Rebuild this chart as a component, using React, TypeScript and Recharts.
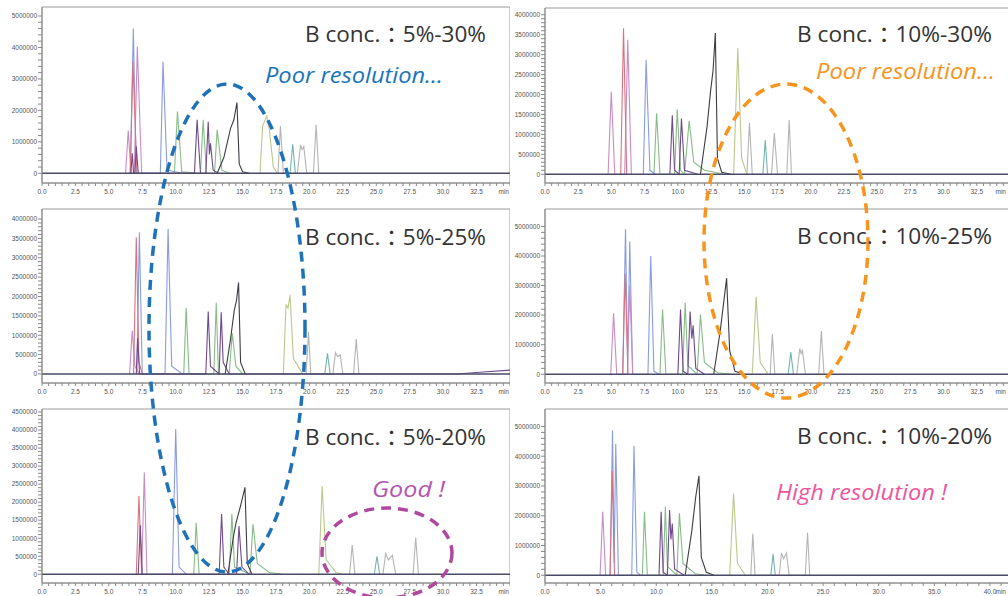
import React from 'react'
import { LineChart, Line, XAxis, YAxis, ReferenceArea } from 'recharts'

type Pt = [number, number]

// retention time (min), intensity in millions of counts

// ---- B conc. 5%-30%
const p1Mauve: Pt[] = [[6.25, 0], [6.45, 1.36], [6.65, 0], [6.9, 0], [7.13, 4.03], [7.45, 0]]
const p1Red: Pt[] = [[6.6, 0], [6.8, 3.55], [7.1, 0]]
const p1Blue: Pt[] = [[6.6, 0], [6.83, 4.6], [7.05, 0], [8.85, 0], [9.05, 3.55], [9.35, 0.1], [10.5, 0]]
const p1Green: Pt[] = [[9.9, 0], [10.13, 1.96], [10.45, 0.05], [11.85, 0], [12.05, 1.7], [12.3, 0], [12.9, 0], [13.1, 1.38], [13.45, 0.1], [14, 0]]
const p1Purple: Pt[] = [[6.65, 0], [6.75, 0.64], [6.85, 0], [6.95, 0], [7.05, 0.85], [7.2, 0], [11.4, 0], [11.6, 1.7], [11.85, 0], [12.25, 0], [12.43, 1.64], [12.52, 0.6], [12.6, 0.95], [12.8, 0.1], [13.2, 0]]
const p1Black: Pt[] = [[13.1, 0], [13.6, 0.5], [14.1, 1.43], [14.35, 1.7], [14.58, 2.25], [14.75, 0.3], [15, 0.05], [15.5, 0]]
const p1Olive: Pt[] = [[16.3, 0], [16.5, 1.5], [16.8, 1.82], [17.0, 1.4], [17.3, 0.2], [17.6, 0]]
const p1Gray: Pt[] = [[17.65, 0], [17.83, 1.5], [18.05, 0], [19.1, 0], [19.33, 0.9], [19.45, 0.75], [19.58, 0.85], [19.8, 0], [20.3, 0], [20.5, 1.54], [20.7, 0]]
const p1Teal: Pt[] = [[18.55, 0], [18.75, 0.92], [18.95, 0]]

// ---- B conc. 10%-30%
const p2Mauve: Pt[] = [[4.75, 0], [4.99, 2.07], [5.25, 0], [6.0, 0], [6.23, 3.37], [6.5, 0]]
const p2Red: Pt[] = [[5.7, 0], [5.91, 3.66], [6.15, 0]]
const p2Blue: Pt[] = [[7.4, 0], [7.61, 2.87], [7.9, 0.1], [8.3, 0]]
const p2Green: Pt[] = [[8.2, 0], [8.4, 1.53], [8.65, 0], [9.75, 0], [9.95, 1.63], [10.2, 0.1], [10.5, 0], [10.85, 1.34], [11.2, 0.3], [12, 0.1], [13.5, 0]]
const p2Purple: Pt[] = [[9.4, 0], [9.58, 1.48], [9.75, 0.1], [10.1, 0], [10.27, 1.4], [10.5, 0.1], [11.5, 0]]
const p2Black: Pt[] = [[11.7, 0], [12.2, 1.2], [12.47, 2.11], [12.65, 2.6], [12.82, 3.54], [12.98, 0.4], [13.3, 0.05], [14, 0]]
const p2Olive: Pt[] = [[14.2, 0], [14.51, 3.16], [14.8, 0.4], [15.2, 0]]
const p2Gray: Pt[] = [[15.2, 0], [15.39, 1.29], [15.6, 0], [17.05, 0], [17.26, 1.04], [17.5, 0], [18.2, 0], [18.38, 1.36], [18.55, 0]]
const p2Teal: Pt[] = [[16.4, 0], [16.58, 0.86], [16.75, 0]]

// ---- B conc. 5%-25%
const p3Mauve: Pt[] = [[6.55, 0], [6.75, 1.12], [6.95, 0.2], [7.3, 0]]
const p3Red: Pt[] = [[6.85, 0], [7.05, 3.53], [7.25, 0.3], [7.5, 0]]
const p3Blue: Pt[] = [[7.1, 0], [7.28, 3.66], [7.5, 0], [9.2, 0], [9.43, 3.74], [9.7, 0.2], [10.5, 0]]
const p3Green: Pt[] = [[10.6, 0], [10.78, 1.7], [11, 0], [12.85, 0], [13.03, 1.84], [13.2, 0], [14.0, 0], [14.23, 1.05], [14.5, 0.2], [15, 0]]
const p3Purple: Pt[] = [[7.05, 0], [7.15, 0.92], [7.3, 0], [12.25, 0], [12.43, 1.61], [12.6, 0.2], [13.25, 0], [13.4, 1.59], [13.55, 0.3], [14, 0], [31, 0], [33, 0.05], [35, 0.1]]
const p3Black: Pt[] = [[13.7, 0], [14.1, 0.9], [14.38, 1.65], [14.55, 1.9], [14.7, 2.36], [14.85, 0.3], [15.2, 0]]
const p3Olive: Pt[] = [[18.05, 0], [18.25, 1.78], [18.4, 1.7], [18.55, 2.04], [18.8, 0.4], [19.5, 0]]
const p3Gray: Pt[] = [[19.75, 0], [19.93, 1.09], [20.1, 0], [21.75, 0], [21.95, 0.55], [22.1, 0.45], [22.3, 0.49], [22.5, 0], [23.3, 0], [23.5, 0.9], [23.7, 0]]
const p3Teal: Pt[] = [[21.15, 0], [21.35, 0.53], [21.55, 0]]

// ---- B conc. 10%-25%
const p4Mauve: Pt[] = [[4.95, 0], [5.16, 2.06], [5.4, 0], [6.2, 0], [6.38, 3.0], [6.6, 0]]
const p4Red: Pt[] = [[5.85, 0], [6.03, 3.4], [6.25, 0]]
const p4Blue: Pt[] = [[5.85, 0], [6.06, 4.91], [6.22, 0.3], [6.38, 4.49], [6.6, 0], [7.75, 0], [7.96, 4.0], [8.2, 0.1], [8.6, 0]]
const p4Green: Pt[] = [[8.65, 0], [8.85, 2.19], [9.1, 0], [10.35, 0], [10.55, 2.42], [10.75, 0.3], [11.45, 0], [11.7, 2.02], [12, 0.4], [13, 0.05], [14, 0]]
const p4Purple: Pt[] = [[10.0, 0], [10.2, 2.19], [10.4, 0.1], [10.75, 0], [10.92, 2.12], [11.05, 1.2], [11.15, 1.66], [11.35, 0.2], [12, 0]]
const p4Black: Pt[] = [[12.7, 0], [13.2, 1.5], [13.67, 3.25], [13.9, 0.8], [14.3, 0.1], [15, 0]]
const p4Olive: Pt[] = [[15.6, 0], [15.89, 2.62], [16.2, 0.4], [16.8, 0]]
const p4Gray: Pt[] = [[16.95, 0], [17.11, 1.36], [17.3, 0], [18.95, 0], [19.18, 0.87], [19.28, 0.7], [19.38, 0.81], [19.6, 0], [20.6, 0], [20.8, 1.46], [21, 0]]
const p4Teal: Pt[] = [[18.3, 0], [18.5, 0.75], [18.7, 0]]

// ---- B conc. 5%-20%
const p5Mauve: Pt[] = [[7.45, 0], [7.65, 2.82], [7.85, 0]]
const p5Red: Pt[] = [[7.05, 0], [7.25, 2.17], [7.45, 0]]
const p5Blue: Pt[] = [[9.75, 0], [10.0, 4.03], [10.25, 0.2], [10.8, 0]]
const p5Green: Pt[] = [[11.35, 0], [11.53, 1.43], [11.75, 0], [14.0, 0], [14.2, 1.67], [14.4, 0.2], [15.55, 0], [15.78, 1.39], [16.1, 0.3], [17, 0.05], [18, 0]]
const p5Purple: Pt[] = [[7.2, 0], [7.35, 1.36], [7.5, 0], [13.25, 0], [13.43, 1.67], [13.6, 0.2], [14.0, 0], [14.55, 0], [14.73, 1.34], [14.95, 0.2], [15.5, 0]]
const p5Black: Pt[] = [[13.9, 0], [14.3, 1.0], [14.5, 1.41], [14.85, 1.9], [15.18, 2.41], [15.35, 0.3], [15.7, 0]]
const p5Olive: Pt[] = [[20.7, 0], [20.95, 2.45], [21.25, 0.4], [22, 0.05], [22.5, 0]]
const p5Gray: Pt[] = [[23.0, 0], [23.2, 0.81], [23.4, 0], [25.5, 0], [25.7, 0.58], [25.9, 0.4], [26.2, 0.53], [26.45, 0], [27.75, 0], [27.95, 1.02], [28.15, 0]]
const p5Teal: Pt[] = [[24.85, 0], [25.05, 0.5], [25.25, 0]]

// ---- B conc. 10%-20%
const p6Mauve: Pt[] = [[4.95, 0], [5.19, 2.13], [5.45, 0]]
const p6Red: Pt[] = [[5.85, 0], [6.04, 3.5], [6.25, 0]]
const p6Blue: Pt[] = [[5.85, 0], [6.07, 4.87], [6.22, 0.4], [6.36, 4.42], [6.6, 0], [7.8, 0], [8.0, 4.35], [8.25, 0.1], [8.6, 0]]
const p6Green: Pt[] = [[8.75, 0], [8.94, 2.13], [9.2, 0], [10.62, 0], [10.82, 2.3], [11.0, 0.3], [11.85, 0], [12.08, 2.08], [12.4, 0.4], [13.5, 0.05], [14.5, 0]]
const p6Purple: Pt[] = [[10.25, 0], [10.44, 2.13], [10.62, 0.1], [11.0, 0], [11.2, 2.19], [11.32, 1.2], [11.44, 1.74], [11.65, 0.2], [12.5, 0]]
const p6Black: Pt[] = [[12.6, 0], [13.2, 1.5], [13.55, 2.64], [13.84, 3.34], [14.05, 0.6], [14.5, 0.1], [15.2, 0]]
const p6Olive: Pt[] = [[16.6, 0], [16.95, 2.75], [17.3, 0.4], [18, 0]]
const p6Gray: Pt[] = [[18.5, 0], [18.68, 1.4], [18.88, 0], [21.05, 0], [21.26, 0.75], [21.45, 0.55], [21.7, 0.75], [21.95, 0], [23.4, 0], [23.6, 1.43], [23.8, 0]]
const p6Teal: Pt[] = [[20.3, 0], [20.5, 0.71], [20.7, 0]]

// tick labels
const xLabels35 = [0, 2.5, 5, 7.5, 10, 12.5, 15, 17.5, 20, 22.5, 25, 27.5, 30, 32.5]
const xLabels41 = [0, 5, 10, 15, 20, 25, 30, 35, 40]
const yLabels5M = [0, 1, 2, 3, 4, 5]
const yLabels4M = [0, 0.5, 1, 1.5, 2, 2.5, 3, 3.5, 4]
const yLabels45M = [0, 0.5, 1, 1.5, 2, 2.5, 3, 3.5, 4, 4.5]

const COLORS = {
  mauve: '#c88cc6',
  red: '#d8727e',
  blue: '#8a9ce0',
  green: '#88bb88',
  purple: '#6f4a8c',
  black: '#3c3c44',
  olive: '#bdc78b',
  gray: '#b4b4b4',
  teal: '#74b4ae',
  base: '#4a4a66'
}

const FONT = "'Open Sans', 'Noto Sans CJK JP', sans-serif"
const TICK_FONT = "'Liberation Sans', Arial, sans-serif"

interface Trace {
  pts: Pt[]
  color: string
}

interface PanelProps {
  id: string
  left: number
  top: number
  width: number
  marginTop: number
  xMax: number
  xLabels: number[]
  xStep: number
  yDomain: [number, number]
  yLabels: number[]
  yStep: number
  traces: Trace[]
}

const near = (a: number, b: number) => Math.abs(a - b) < 1e-6

const Panel = ({ id, left, top, width, marginTop, xMax, xLabels, xStep, yDomain, yLabels, yStep, traces }: PanelProps) => {
  const xTicks: number[] = []
  for (let i = 0; i * xStep < xMax - 1e-6; i++) xTicks.push(+(i * xStep).toFixed(2))
  xTicks.push(xMax)
  const yTicks: number[] = []
  const yMax = yLabels[yLabels.length - 1]
  for (let i = 0; i * yStep <= yMax + 1e-6; i++) yTicks.push(+(i * yStep).toFixed(2))

  const all: Trace[] = [...traces, { pts: [[0, 0], [xMax, 0]], color: COLORS.base }]

  return (
    <div style={{ position: 'absolute', left, top }}>
      <LineChart width={width} height={200} margin={{ top: marginTop, right: 0, bottom: 0, left: 0 }}>
        <XAxis
          dataKey="t"
          type="number"
          domain={[0, xMax]}
          ticks={xTicks}
          interval={0}
          height={17}
          tickSize={3}
          tickMargin={1}
          axisLine={{ stroke: '#8a8a8a' }}
          tickLine={{ stroke: '#8a8a8a' }}
          allowDataOverflow
          tick={(p: any) => {
            const v = p.payload.value
            if (near(v, xMax)) {
              return (
                <text x={Math.min(p.x, 1007 - left) - 1} y={p.y} dy={6.5} textAnchor="end" fontSize={6.5} fontFamily={TICK_FONT} fill="#555">
                  min
                </text>
              )
            }
            if (!xLabels.some((l) => near(l, v))) return <g />
            return (
              <text x={p.x} y={p.y} dy={6.5} textAnchor="middle" fontSize={6.5} fontFamily={TICK_FONT} fill="#555">
                {v.toFixed(1)}
              </text>
            )
          }}
        />
        <YAxis
          type="number"
          domain={yDomain}
          ticks={yTicks}
          interval={0}
          width={42}
          tickSize={4}
          tickMargin={1}
          axisLine={{ stroke: '#8a8a8a' }}
          tickLine={{ stroke: '#8a8a8a' }}
          allowDataOverflow
          tick={(p: any) => {
            const v = p.payload.value
            if (!yLabels.some((l) => near(l, v))) return <g />
            return (
              <text x={p.x} y={p.y} dy={2.3} textAnchor="end" fontSize={6.5} fontFamily={TICK_FONT} fill="#555">
                {Math.round(v * 1e6).toString()}
              </text>
            )
          }}
        />
        <ReferenceArea x1={0} x2={xMax} y1={yDomain[0]} y2={yDomain[1]} fill="none" stroke="#9a9a9a" strokeWidth={1} ifOverflow="visible" />
        {all.map((tr, i) => (
          <Line
            key={`${id}-${i}`}
            data={tr.pts.map(([t, v]) => ({ t, v }))}
            dataKey="v"
            type="linear"
            stroke={tr.color}
            strokeWidth={tr.color === COLORS.base ? 1.6 : 1.1}
            dot={false}
            activeDot={false}
            isAnimationActive={false}
          />
        ))}
      </LineChart>
    </div>
  )
}

const tr = (pts: Pt[], color: string): Trace => ({ pts, color })

const App = () => {
  const labelStyle = { fontFamily: FONT, fontSize: 21, fill: '#333', lengthAdjust: 'spacingAndGlyphs' as const }
  const noteStyle = { fontFamily: FONT, fontSize: 22, fontStyle: 'italic' as const, lengthAdjust: 'spacingAndGlyphs' as const }
  return (
    <div style={{ position: 'absolute', left: 0, top: 0, width: 1008, height: 596, overflow: 'hidden', background: '#fff' }}>
      <Panel id="p1" left={0} top={0} width={510} marginTop={7} xMax={35} xLabels={xLabels35} xStep={0.5}
        yDomain={[-0.308, 5.286]} yLabels={yLabels5M} yStep={0.2}
        traces={[tr(p1Gray, COLORS.gray), tr(p1Teal, COLORS.teal), tr(p1Olive, COLORS.olive), tr(p1Green, COLORS.green), tr(p1Blue, COLORS.blue), tr(p1Mauve, COLORS.mauve), tr(p1Red, COLORS.red), tr(p1Purple, COLORS.purple), tr(p1Black, COLORS.black)]} />
      <Panel id="p2" left={503} top={0} width={507} marginTop={8} xMax={35} xLabels={xLabels35} xStep={0.5}
        yDomain={[-0.219, 4.169]} yLabels={yLabels4M} yStep={0.1}
        traces={[tr(p2Gray, COLORS.gray), tr(p2Teal, COLORS.teal), tr(p2Olive, COLORS.olive), tr(p2Green, COLORS.green), tr(p2Blue, COLORS.blue), tr(p2Mauve, COLORS.mauve), tr(p2Red, COLORS.red), tr(p2Purple, COLORS.purple), tr(p2Black, COLORS.black)]} />
      <Panel id="p3" left={0} top={200} width={510} marginTop={9} xMax={35} xLabels={xLabels35} xStep={0.5}
        yDomain={[-0.233, 4.259]} yLabels={yLabels4M} yStep={0.1}
        traces={[tr(p3Gray, COLORS.gray), tr(p3Teal, COLORS.teal), tr(p3Olive, COLORS.olive), tr(p3Green, COLORS.green), tr(p3Blue, COLORS.blue), tr(p3Mauve, COLORS.mauve), tr(p3Red, COLORS.red), tr(p3Purple, COLORS.purple), tr(p3Black, COLORS.black)]} />
      <Panel id="p4" left={503} top={200} width={507} marginTop={9} xMax={35} xLabels={xLabels35} xStep={0.5}
        yDomain={[-0.295, 5.59]} yLabels={yLabels5M} yStep={0.2}
        traces={[tr(p4Gray, COLORS.gray), tr(p4Teal, COLORS.teal), tr(p4Olive, COLORS.olive), tr(p4Green, COLORS.green), tr(p4Blue, COLORS.blue), tr(p4Mauve, COLORS.mauve), tr(p4Red, COLORS.red), tr(p4Purple, COLORS.purple), tr(p4Black, COLORS.black)]} />
      <Panel id="p5" left={0} top={400} width={510} marginTop={9} xMax={35} xLabels={xLabels35} xStep={0.5}
        yDomain={[-0.242, 4.583]} yLabels={yLabels45M} yStep={0.1}
        traces={[tr(p5Gray, COLORS.gray), tr(p5Teal, COLORS.teal), tr(p5Olive, COLORS.olive), tr(p5Green, COLORS.green), tr(p5Blue, COLORS.blue), tr(p5Mauve, COLORS.mauve), tr(p5Red, COLORS.red), tr(p5Purple, COLORS.purple), tr(p5Black, COLORS.black)]} />
      <Panel id="p6" left={503} top={400} width={507} marginTop={9} xMax={41.8} xLabels={xLabels41} xStep={1}
        yDomain={[-0.26, 5.587]} yLabels={yLabels5M} yStep={0.2}
        traces={[tr(p6Gray, COLORS.gray), tr(p6Teal, COLORS.teal), tr(p6Olive, COLORS.olive), tr(p6Green, COLORS.green), tr(p6Blue, COLORS.blue), tr(p6Mauve, COLORS.mauve), tr(p6Red, COLORS.red), tr(p6Purple, COLORS.purple), tr(p6Black, COLORS.black)]} />

      <svg width={1008} height={596} style={{ position: 'absolute', left: 0, top: 0, pointerEvents: 'none' }}>
        <ellipse cx={227} cy={328} rx={78} ry={244} fill="none" stroke="#1f72b8" strokeWidth={3.5} strokeDasharray="10 7" />
        <ellipse cx={786} cy={241} rx={82} ry={157} fill="none" stroke="#f7941d" strokeWidth={3.5} strokeDasharray="10 7" />
        <ellipse cx={387} cy={553} rx={65} ry={45} fill="none" stroke="#b0489e" strokeWidth={3.5} strokeDasharray="10 7" />

        <text x={305} y={42} textLength={181} {...labelStyle}>B conc.：5%-30%</text>
        <text x={797} y={42} textLength={195} {...labelStyle}>B conc.：10%-30%</text>
        <text x={305} y={245} textLength={181} {...labelStyle}>B conc.：5%-25%</text>
        <text x={797} y={244} textLength={195} {...labelStyle}>B conc.：10%-25%</text>
        <text x={305} y={445} textLength={181} {...labelStyle}>B conc.：5%-20%</text>
        <text x={797} y={444} textLength={195} {...labelStyle}>B conc.：10%-20%</text>

        <text x={265} y={83} textLength={178} {...noteStyle} fill="#1a74bc">Poor resolution…</text>
        <text x={816} y={79} textLength={179} {...noteStyle} fill="#f7941d">Poor resolution…</text>
        <text x={372} y={497} textLength={73} {...noteStyle} fill="#b556ad">Good !</text>
        <text x={776} y={500} textLength={171} {...noteStyle} fill="#ef559b">High resolution !</text>
      </svg>
    </div>
  )
}

export default App
